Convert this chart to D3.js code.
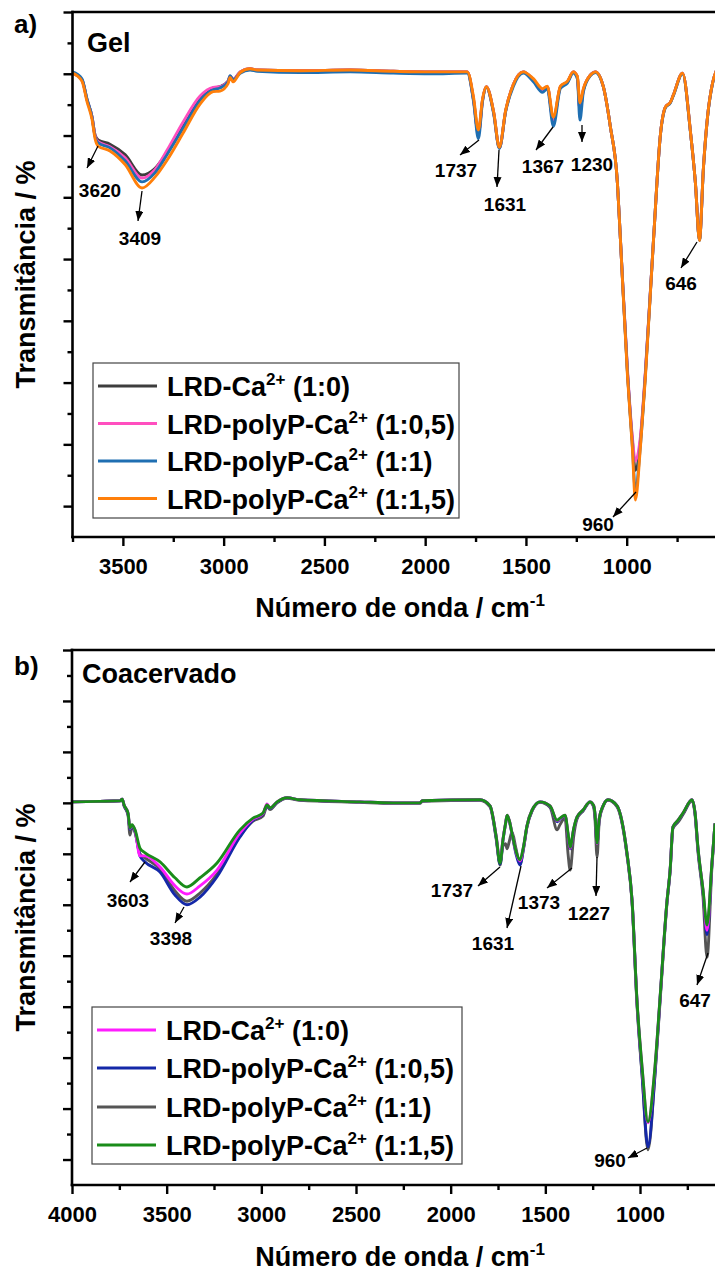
<!DOCTYPE html>
<html><head><meta charset="utf-8">
<script src="https://cdn.jsdelivr.net/npm/d3@7"></script>
<style>body{margin:0;background:#fff}</style>
</head><body><svg id="c" width="715" height="1274"></svg>
<script>
// ---------- DATA ----------
const gelWave = [
3750,3703,3678,3653,3638,3623,3564,3489,3405,3340,
3281,3201,3117,3052,3018,2978,2968,2953,2918,2869,
2834,2620,2372,2158,1975,1791,1760,1736,1715,1697,
1660,1632,1600,1562,1513,1463,1418,1394,1364,1329,
1294,1265,1245,1232,1215,1180,1155,1116,1081,1046,
1031,996,972,957,932,907,867,832,808,783,
768,723,683,659,639,619,599,574,554];
const gelCa10 = [
70.1,69.0,65.8,63.0,60.1,59.3,58.6,56.9,53.6,54.7,
57.3,61.7,66.1,67.7,67.9,68.8,69.6,69.1,70.3,70.8,
70.6,70.5,70.6,70.4,70.3,70.3,65.8,60.3,65.8,67.9,
63.7,58.0,64.1,68.3,70.3,69.0,67.4,67.9,62.5,67.9,
68.7,70.3,69.5,64.1,67.4,69.8,70.3,67.9,61.4,52.3,
43.1,21.6,10.7,5.8,10.7,21.6,43.1,60.4,64.6,65.4,
66.6,70.1,60.4,52.3,43.1,54.9,63.0,68.5,70.6];
const gelCa105 = [
70.1,69.0,65.8,63.0,60.0,59.0,58.2,56.4,53.1,54.5,
57.6,62.2,66.4,67.8,67.9,68.8,69.6,69.1,70.3,70.8,
70.6,70.5,70.6,70.4,70.3,70.3,65.8,60.2,65.8,67.9,
63.7,58.0,64.1,68.3,70.3,69.0,67.4,67.9,62.3,67.9,
68.7,70.3,69.5,64.0,67.4,69.8,70.3,67.9,61.4,52.3,
43.1,22.0,11.2,7.3,11.2,22.0,43.1,60.4,64.6,65.4,
66.6,70.1,60.4,52.3,43.2,54.9,63.0,68.5,70.6];
const gelCa11 = [
70.3,69.2,65.9,63.0,59.8,58.8,58.0,55.9,52.5,54.0,
56.9,61.2,65.7,67.4,67.7,68.7,69.7,69.0,70.1,70.6,
70.4,70.2,70.3,70.1,70.0,70.1,65.5,59.5,65.6,67.8,
63.5,57.9,64.0,68.0,70.1,68.7,67.0,67.6,61.5,67.6,
68.5,70.1,69.2,62.5,67.1,69.7,70.2,67.9,61.4,52.3,
43.1,21.4,9.8,2.6,9.8,21.4,43.1,60.3,64.5,65.3,
66.5,70.0,60.3,52.3,43.0,54.8,62.9,68.4,70.5];
const gelCa115 = [
70.1,68.8,65.5,62.6,59.5,58.3,57.5,55.3,51.5,53.3,
56.0,60.4,65.1,67.1,67.2,68.4,69.4,68.7,70.2,70.8,
70.6,70.5,70.6,70.4,70.3,70.3,66.2,60.9,66.0,67.9,
63.8,58.1,64.2,68.3,70.3,69.2,67.6,68.0,63.0,68.0,
68.8,70.3,69.6,65.3,67.6,69.8,70.3,67.9,61.4,52.3,
43.1,21.0,9.5,1.0,9.5,21.0,43.1,60.4,64.6,65.4,
66.6,70.1,60.4,52.3,43.0,54.9,63.0,68.5,70.6];

const coaWave = [
4000,3852,3746,3735,3725,3704,3694,3683,3667,3641,
3614,3535,3456,3393,3324,3234,3113,3044,2991,2970,
2954,2917,2864,2796,2479,2304,2162,2150,1845,1792,
1760,1739,1724,1710,1702,1690,1676,1655,1634,1615,
1597,1570,1528,1475,1438,1423,1396,1380,1369,1350,
1333,1301,1264,1245,1238,1227,1215,1195,1169,1121,
1069,1042,1016,989,958,921,895,857,841,826,
799,773,725,709,694,667,646,620,604];
const coaCa10 = [
70.2,70.3,70.4,70.7,69.6,68.0,65.0,65.6,64.6,59.6,
59.6,57.4,53.7,52.1,53.7,56.8,64.1,66.8,67.9,69.8,
69.0,70.2,71.0,70.6,70.2,70.0,70.0,70.4,70.6,69.4,
63.6,58.5,62.8,66.0,67.6,66.5,64.0,60.4,58.6,61.4,
65.5,68.6,70.2,69.4,66.5,66.9,67.6,63.8,61.1,64.9,
67.2,68.6,70.2,69.5,67.9,62.0,67.0,69.4,70.6,69.4,
60.2,50.9,31.2,18.0,7.2,18.0,31.2,50.9,56.8,65.3,
66.6,68.0,70.6,68.0,61.2,52.8,45.0,58.1,66.0];
const coaCa105 = [
70.2,70.3,70.4,70.7,69.5,67.8,64.8,65.5,64.4,59.6,
58.4,56.4,51.9,50.0,51.5,55.5,63.3,66.6,67.8,69.5,
68.9,70.1,71.0,70.6,70.2,70.0,70.0,70.4,70.6,69.4,
63.3,58.0,62.6,65.9,67.5,66.4,63.9,60.0,57.8,61.2,
65.4,68.5,70.2,69.3,66.3,66.8,67.5,63.6,61.0,64.8,
67.1,68.5,70.2,69.4,67.8,62.0,66.9,69.4,70.6,69.4,
60.1,50.8,31.0,16.8,2.5,16.8,31.0,50.8,56.7,65.2,
66.5,67.9,70.6,67.9,61.0,52.5,44.1,58.0,66.0];
const coaCa11 = [
70.2,70.3,70.4,70.7,69.4,67.6,63.7,65.3,64.2,60.0,
59.2,57.0,52.7,50.7,52.3,56.0,63.5,66.4,67.4,69.3,
68.7,70.0,70.9,70.5,70.1,69.9,69.9,70.3,70.5,69.2,
63.0,57.8,61.5,62.0,61.0,62.5,64.3,61.0,58.0,61.0,
65.2,68.4,70.1,69.1,64.7,65.7,67.0,60.0,56.8,63.5,
66.8,68.4,70.1,69.2,67.0,59.4,66.5,69.3,70.5,69.2,
59.8,50.5,30.5,16.5,1.9,16.5,30.5,50.5,56.5,65.0,
66.2,67.7,70.4,67.6,60.5,51.5,39.7,57.5,65.8];
const coaCa115 = [
70.2,70.3,70.4,70.7,69.6,68.0,65.1,65.7,64.7,61.1,
60.2,58.4,55.3,53.5,55.3,58.2,64.7,67.0,68.0,69.6,
69.0,70.2,71.0,70.6,70.2,70.0,70.0,70.4,70.6,69.4,
63.5,58.2,62.7,66.0,67.6,66.5,64.0,60.5,58.8,61.5,
65.5,68.6,70.2,69.4,66.6,67.0,67.6,64.0,61.3,65.0,
67.2,68.6,70.2,69.5,68.0,62.1,67.0,69.4,70.6,69.4,
60.2,50.9,31.3,18.2,7.4,18.2,31.3,50.9,56.8,65.3,
66.6,68.0,70.6,68.0,61.3,52.9,46.0,58.2,66.0];

const legendPrefixA = ["LRD-Ca","LRD-polyP-Ca","LRD-polyP-Ca","LRD-polyP-Ca"];
const legendRatiosA = ["(1:0)","(1:0,5)","(1:1)","(1:1,5)"];
const legendPrefixB = ["LRD-Ca","LRD-polyP-Ca","LRD-polyP-Ca","LRD-polyP-Ca"];
const legendRatiosB = ["(1:0)","(1:0,5)","(1:1)","(1:1,5)"];

const gelXMajor = [3500,3000,2500,2000,1500,1000];
const gelXMinor = [3750,3250,2750,2250,1750,1250,750];
const coaXMajor = [4000,3500,3000,2500,2000,1500,1000];
const coaXMinor = [3750,3250,2750,2250,1750,1250,750];
const gelYMajor = [0,10,20,30,40,50,60,70,80];
const gelYMinor = [5,15,25,35,45,55,65,75];
const coaYMajor = [0,10,20,30,40,50,60,70,80,90,100];
const coaYMinor = [5,15,25,35,45,55,65,75,85,95];

const gelPeaks = ["3620","3409","1737","1631","1367","1230","960","646"];
const coaPeaks = ["3603","3398","1737","1631","1373","1227","960","647"];

// ---------- DRAW ----------
const FONT = '"Liberation Sans", Arial, Helvetica, sans-serif';
const svg = d3.select("#c");
const defs = svg.append("defs");
defs.append("marker").attr("id","arr").attr("viewBox","0 0 10 10")
  .attr("refX",10).attr("refY",5).attr("markerWidth",10).attr("markerHeight",8)
  .attr("preserveAspectRatio","none")
  .attr("markerUnits","userSpaceOnUse").attr("orient","auto")
  .append("path").attr("d","M0,0L10,5L0,10z").attr("fill","#000");

function drawPanel(p) {
  const g = svg.append("g");
  const x = d3.scaleLinear().domain(p.xDomain).range(p.xRange);
  const y = d3.scaleLinear().domain(p.yDomain).range([p.bottom, p.top]);
  defs.append("clipPath").attr("id","clip"+p.id).append("rect")
    .attr("x",p.left).attr("y",p.top).attr("width",715-p.left).attr("height",p.bottom-p.top);
  const line = d3.line().x((d,i)=>x(p.wave[i])).y(d=>y(d)).curve(d3.curveMonotoneX);
  const lg = g.append("g").attr("clip-path",`url(#clip${p.id})`);
  p.series.forEach(s => lg.append("path").attr("d", line(s.values))
    .attr("fill","none").attr("stroke",s.color).attr("stroke-width",2.9)
    .attr("stroke-linejoin","round"));

  function styleAxis(a){
    a.select(".domain").remove();
    a.attr("font-family",FONT).attr("font-size",22).attr("font-weight","bold");
    a.selectAll("line").attr("stroke","#000").attr("stroke-width",2.4);
    a.selectAll("text").attr("fill","#000");
  }
  styleAxis(g.append("g").attr("transform",`translate(0,${p.bottom})`)
    .call(d3.axisBottom(x).tickValues(p.xMajor).tickSize(9).tickPadding(12).tickFormat(d3.format("d"))));
  styleAxis(g.append("g").attr("transform",`translate(0,${p.bottom})`)
    .call(d3.axisBottom(x).tickValues(p.xMinor).tickSize(5).tickFormat("")));
  styleAxis(g.append("g").attr("transform",`translate(${p.left},0)`)
    .call(d3.axisLeft(y).tickValues(p.yMajor).tickSize(9).tickFormat("")));
  styleAxis(g.append("g").attr("transform",`translate(${p.left},0)`)
    .call(d3.axisLeft(y).tickValues(p.yMinor).tickSize(5).tickFormat("")));

  const ax = g.append("g").attr("stroke","#000").attr("stroke-width",2.6);
  ax.append("line").attr("x1",p.left).attr("x2",p.left).attr("y1",p.top-1.3).attr("y2",p.bottom+1.3);
  ax.append("line").attr("x1",p.left-1.3).attr("x2",715).attr("y1",p.bottom).attr("y2",p.bottom);
  ax.append("line").attr("x1",p.left-1.3).attr("x2",715).attr("y1",p.top).attr("y2",p.top);

  // titles
  g.append("text").attr("transform",`translate(35,${(p.top+p.bottom)/2}) rotate(-90)`)
    .attr("text-anchor","middle").attr("font-family",FONT).attr("font-size",27).attr("font-weight","bold")
    .text("Transmitância / %");
  const xt = g.append("text").attr("x",400).attr("y",p.xTitleY).attr("text-anchor","middle")
    .attr("font-family",FONT).attr("font-size",27).attr("font-weight","bold");
  xt.append("tspan").text("Número de onda / cm");
  xt.append("tspan").attr("dy",-11).attr("font-size",17).text("-1");

  g.append("text").attr("x",14).attr("y",p.letterY).attr("font-family",FONT).attr("font-size",26)
    .attr("font-weight","bold").text(p.letter);
  g.append("text").attr("x",p.nameX).attr("y",p.nameY).attr("font-family",FONT).attr("font-size",27)
    .attr("font-weight","bold").text(p.name);

  // annotations
  p.peaks.forEach((lab,i) => {
    const a = p.arrows[i];
    g.append("line").attr("x1",a[0]).attr("y1",a[1]).attr("x2",a[2]).attr("y2",a[3])
      .attr("stroke","#000").attr("stroke-width",1.3).attr("marker-end","url(#arr)");
    g.append("text").attr("x",a[4]).attr("y",a[5]).attr("text-anchor","middle")
      .attr("font-family",FONT).attr("font-size",19).attr("font-weight","bold").text(lab);
  });

  // legend
  const L = p.legend;
  g.append("rect").attr("x",L.x).attr("y",L.y).attr("width",L.w).attr("height",L.h)
    .attr("fill","#fff").attr("stroke","#444").attr("stroke-width",1.2);
  p.series.slice().sort((a,b)=>a.order-b.order).forEach((s,i) => {
    const yy = L.rows[i];
    g.append("line").attr("x1",L.x+5).attr("x2",L.x+64).attr("y1",yy).attr("y2",yy)
      .attr("stroke",s.color).attr("stroke-width",3);
    const t = g.append("text").attr("x",L.x+74).attr("y",yy+10).attr("font-family",FONT)
      .attr("font-size",27).attr("font-weight","bold");
    t.append("tspan").text(s.prefix);
    t.append("tspan").attr("dy",-11).attr("font-size",17).text("2+");
    t.append("tspan").attr("dy",11).text(" " + s.ratio);
  });
}

drawPanel({
  id:"a", top:12, bottom:537, left:72.5,
  xDomain:[3750,1000], xRange:[72.5,626.7], yDomain:[-5,80],
  wave:gelWave,
  series:[
    {values:gelCa10, color:"#3d3d3d", prefix:legendPrefixA[0], ratio:legendRatiosA[0], order:0},
    {values:gelCa105, color:"#ff4fbf", prefix:legendPrefixA[1], ratio:legendRatiosA[1], order:1},
    {values:gelCa11, color:"#1f6fb2", prefix:legendPrefixA[2], ratio:legendRatiosA[2], order:2},
    {values:gelCa115, color:"#ff7f0a", prefix:legendPrefixA[3], ratio:legendRatiosA[3], order:3}
  ],
  xMajor:gelXMajor, xMinor:gelXMinor, yMajor:gelYMajor, yMinor:gelYMinor,
  xTitleY:617, letter:"a)", letterY:33, name:"Gel", nameX:87, nameY:52,
  peaks:gelPeaks,
  arrows:[[98,146,87,168,100,197],[142,191,138,221,140,245],[479,140,460,155,456,177],
          [499,150,497,187,505,211],[553,127,536,150,543,173],[582,125,582,142,592,171],
          [636,492,613,517,598,531],[697,242,681,268,681,290]],
  legend:{x:93,y:363,w:366,h:155,rows:[386,423.5,461,498.5]}
});

drawPanel({
  id:"b", top:650, bottom:1185, left:72,
  xDomain:[4000,1000], xRange:[72,640], yDomain:[-5,100],
  wave:coaWave,
  series:[
    {values:coaCa11, color:"#555555", prefix:legendPrefixB[2], ratio:legendRatiosB[2], order:2},
    {values:coaCa105, color:"#1428a8", prefix:legendPrefixB[1], ratio:legendRatiosB[1], order:1},
    {values:coaCa10, color:"#ff1cff", prefix:legendPrefixB[0], ratio:legendRatiosB[0], order:0},
    {values:coaCa115, color:"#1a8c1a", prefix:legendPrefixB[3], ratio:legendRatiosB[3], order:3}
  ],
  xMajor:coaXMajor, xMinor:coaXMinor, yMajor:coaYMajor, yMinor:coaYMinor,
  xTitleY:1266, letter:"b)", letterY:675, name:"Coacervado", nameX:82, nameY:683,
  peaks:coaPeaks,
  arrows:[[145,862,130,882,128,907],[184,907,175,923,171,945],[500,867,478,886,452,897],
          [521,866,507,928,493,950],[572,868,547,888,539,909],[597,857,596,896,589,920],
          [647,1148,628,1158,610,1167],[708,953,697,985,695,1007]],
  legend:{x:92,y:1007,w:370,h:157,rows:[1030,1068,1107,1145]}
});
</script></body></html>
